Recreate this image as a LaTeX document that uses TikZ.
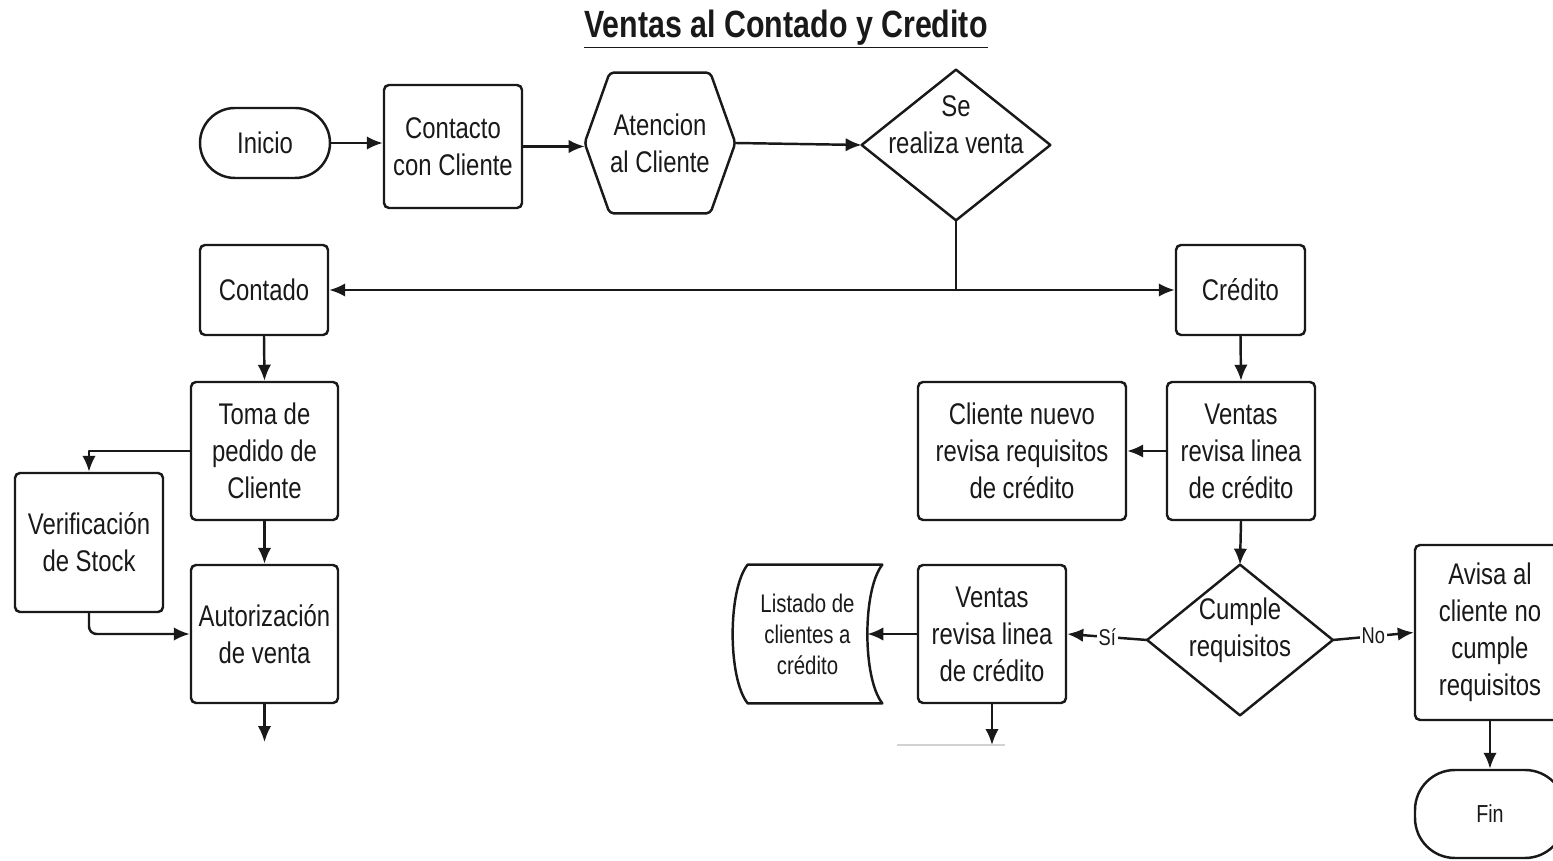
\documentclass[tikz,border=0pt]{standalone}
\usepackage{fontspec}
\setmainfont{Liberation Sans}[FakeStretch=0.8]
\usepackage{tikz}
\usepackage{xcolor}
\usetikzlibrary{arrows.meta}

\begin{document}
\begin{tikzpicture}[
  box/.style={draw=myColor, line width=1.4pt, rounded corners=0.1cm, align=center, inner sep=0pt, text=myColor, font=\fontsize{17}{21}\selectfont},
  term/.style={box, rounded corners=0.7cm},
  plain/.style={align=center, inner sep=0pt, text=myColor, font=\fontsize{17}{21}\selectfont},
  line/.style={draw=myColor, line width=1.4pt, line join=round},
  arrow/.style={line, -{Latex[length=0.32cm,width=0.27cm]}},
  tag/.style={fill=white, inner sep=1pt, text=myColor, font=\fontsize{13}{15}\selectfont}
]
\definecolor{myColor}{RGB}{25,25,25}
\useasboundingbox (0,0) rectangle (31.06,17.2);

\node[text=myColor] (title) at (15.72,16.62) {\fontsize{21.6}{26}\selectfont\bfseries\underline{Ventas al Contado y Credito}};

\node[term, minimum width=2.6cm, minimum height=1.4cm] (inicio) at (5.3,14.34) {Inicio};
\node[box, minimum width=2.76cm, minimum height=2.46cm] (contacto) at (9.06,14.27) {Contacto\\con Cliente};
\node[plain, minimum width=3cm, minimum height=2.8cm] (atencion) at (13.2,14.34) {Atencion\\al Cliente};
\draw[line, rounded corners=0.08cm] (atencion.west) -- ([xshift=0.5cm]atencion.north west) -- ([xshift=-0.5cm]atencion.north east) -- (atencion.east) -- ([xshift=-0.5cm]atencion.south east) -- ([xshift=0.5cm]atencion.south west) -- cycle;
\node[plain, minimum width=3.76cm, minimum height=3cm] (venta) at (19.12,14.3) {};
\draw[line] (venta.north) -- (venta.east) -- (venta.south) -- (venta.west) -- cycle;
\node[plain] (ventaText) at (19.12,14.7) {Se\\realiza venta};

\node[box, minimum width=2.56cm, minimum height=1.8cm] (contado) at (5.28,11.4) {Contado};
\node[box, minimum width=2.58cm, minimum height=1.8cm] (credito) at (24.81,11.4) {Crédito};
\coordinate (split) at (19.12,11.4);

\node[box, minimum width=2.94cm, minimum height=2.76cm] (toma) at (5.29,8.18) {Toma de\\pedido de\\Cliente};
\node[box, minimum width=2.96cm, minimum height=2.78cm] (verif) at (1.78,6.35) {Verificación\\de Stock};
\node[box, minimum width=2.94cm, minimum height=2.76cm] (autor) at (5.29,4.52) {Autorización\\de venta};
\coordinate (autorEnd) at (5.29,2.36);

\node[box, minimum width=2.96cm, minimum height=2.76cm] (ventasA) at (24.82,8.18) {Ventas\\revisa linea\\de crédito};
\node[box, minimum width=4.16cm, minimum height=2.76cm] (nuevo) at (20.44,8.18) {Cliente nuevo\\revisa requisitos\\de crédito};
\node[plain, minimum width=3.7cm, minimum height=3cm] (cumple) at (24.8,4.4) {};
\draw[line] (cumple.north) -- (cumple.east) -- (cumple.south) -- (cumple.west) -- cycle;
\node[plain] (cumpleText) at (24.8,4.6) {Cumple\\requisitos};
\node[box, minimum width=2.96cm, minimum height=2.76cm] (ventasB) at (19.84,4.52) {Ventas\\revisa linea\\de crédito};
\coordinate (ventasEnd) at (19.84,2.3);
\draw[gray!35, line width=0.8pt] (17.94,2.3) -- (20.1,2.3);

\node[plain, minimum width=2.98cm, minimum height=2.76cm, font=\fontsize{14.5}{17.6}\selectfont] (listado) at (16.15,4.52) {Listado de\\clientes a\\crédito};
\draw[line] ([xshift=0.3cm]listado.north west) -- (listado.north east) .. controls ([xshift=-0.4cm,yshift=-0.5cm]listado.north east) and ([xshift=-0.4cm,yshift=0.5cm]listado.south east) .. (listado.south east) -- ([xshift=0.3cm]listado.south west) .. controls ([xshift=-0.1cm,yshift=0.5cm]listado.south west) and ([xshift=-0.1cm,yshift=-0.5cm]listado.north west) .. cycle;
\coordinate (listadoIn) at ([xshift=-0.3cm]listado.east);

\node[box, minimum width=3cm, minimum height=3.5cm] (avisa) at (29.8,4.55) {Avisa al\\cliente no\\cumple\\requisitos};
\node[term, rounded corners=0.8cm, minimum width=3cm, minimum height=1.76cm, font=\fontsize{14}{17}\selectfont] (fin) at (29.8,0.92) {Fin};

\draw[arrow] (inicio.east) -- (inicio.east -| contacto.west);
\draw[arrow] (contacto.east) -- (contacto.east -| atencion.west);
\draw[arrow] (atencion.east) -- (venta.west);
\draw[line] (venta.south) -- (split);
\draw[arrow] (split) -- (contado.east);
\draw[arrow] (split) -- (credito.west);
\draw[arrow] (contado.south) -- (toma.north);
\draw[arrow] (toma.west) -| (verif.north);
\draw[arrow, rounded corners=0.15cm] (verif.south) |- (autor.west);
\draw[arrow] (toma.south) -- (autor.north);
\draw[arrow] (autor.south) -- (autorEnd);
\draw[arrow] (credito.south) -- (ventasA.north);
\draw[arrow] (ventasA.west) -- (nuevo.east);
\draw[arrow] (ventasA.south) -- (cumple.north);
\draw[arrow] (cumple.west) -- node[tag] (si) {Sí} (ventasB.east);
\draw[arrow] (cumple.east) -- node[tag] (no) {No} (avisa.west);
\draw[arrow] (ventasB.west) -- (listadoIn);
\draw[arrow] (ventasB.south) -- (ventasEnd);
\draw[arrow] (avisa.south) -- (fin.north);
\end{tikzpicture}
\end{document}
